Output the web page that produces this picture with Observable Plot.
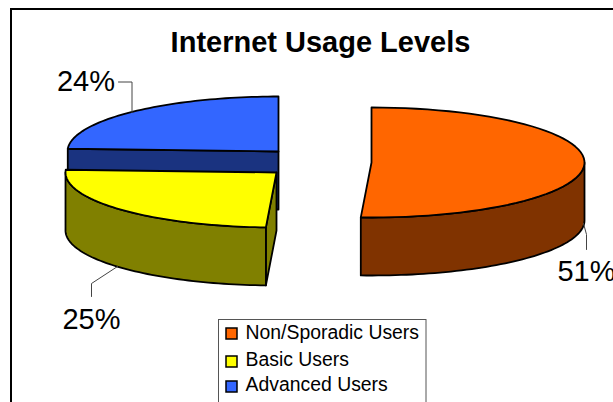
<!DOCTYPE html>
<html><head><meta charset="utf-8">
<script src="https://cdn.jsdelivr.net/npm/d3@7"></script>
<script src="https://cdn.jsdelivr.net/npm/@observablehq/plot@0.6"></script>
<style>html,body{margin:0;padding:0;background:#fff;overflow:hidden}svg{display:block}</style>
</head><body><div id="chart"></div>
<script>
const titleText = "Internet Usage Levels";
const categories = ["Non/Sporadic Users", "Basic Users", "Advanced Users"];
const shares = [50.8, 25.0, 24.2];
const topColors = ["#FF6600", "#FFFF00", "#3366FF"];
const sideColors = ["#803300", "#808000", "#1A3380"];

const W = 613, H = 402;
const FONT = "Liberation Sans, Arial, sans-serif";
// exploded slice centres and 3D pie proportions
const centres = [[371, 162], [276, 172], [278, 151]];
const radii = [213, 211, 211];
const ry = 55, depth = 58;
const turn = 2 * Math.PI / 100;
let acc = 0;
const slices = shares.map((s, i) => {
  const a0 = acc * turn; acc += s; const a1 = acc * turn;
  return {i, a0, a1, cx: centres[i][0], cy: centres[i][1], rx: radii[i]};
});
const pt = (s, a, dz = 0) => [s.cx + s.rx * Math.sin(a), s.cy - ry * Math.cos(a) + dz];
const arc = (s, a0, a1, dz = 0) => d3.range(0, 61).map(k => pt(s, a0 + (a1 - a0) * k / 60, dz));

const polys = [];
const add = (id, color, pts) => pts.forEach(p => polys.push({id, color, x: p[0], y: p[1]}));
const [orange, yellow, blue] = slices;
// blue: cut face, then top
add("b-cut", sideColors[2], [pt(blue, blue.a0), [blue.cx, blue.cy], [blue.cx, blue.cy + depth], pt(blue, blue.a0, depth)]);
add("b-top", topColors[2], [[blue.cx, blue.cy], ...arc(blue, blue.a0, blue.a1)]);
// yellow: cut face, outer side, top
add("y-cut", sideColors[1], [[yellow.cx, yellow.cy], pt(yellow, yellow.a0), pt(yellow, yellow.a0, depth), [yellow.cx, yellow.cy + depth]]);
const yEnd = 1.5 * Math.PI;
add("y-side", sideColors[1], [...arc(yellow, yellow.a0, yEnd), ...arc(yellow, yellow.a0, yEnd, depth).reverse()]);
add("y-top", topColors[1], [[yellow.cx, yellow.cy], ...arc(yellow, yellow.a0, yellow.a1)]);
// orange: outer side, top
add("o-side", sideColors[0], [...arc(orange, Math.PI / 2, orange.a1), ...arc(orange, Math.PI / 2, orange.a1, depth).reverse()]);
add("o-top", topColors[0], [[orange.cx, orange.cy], ...arc(orange, orange.a0, orange.a1)]);

// percentage labels and leader lines
const labels = [
  {t: Math.round(shares[0]) + "%", x: 586, y: 282},
  {t: Math.round(shares[1]) + "%", x: 91, y: 330},
  {t: Math.round(shares[2]) + "%", x: 85.5, y: 92}
];
const leaders = [
  {id: 0, x: 583, y: 223}, {id: 0, x: 586, y: 234}, {id: 0, x: 586, y: 249},
  {id: 1, x: 117, y: 266}, {id: 1, x: 91, y: 283}, {id: 1, x: 91, y: 296},
  {id: 2, x: 118, y: 81.5}, {id: 2, x: 131.5, y: 81.5}, {id: 2, x: 131.5, y: 112}
];
// legend
const legendRows = categories.map((c, i) => ({c, color: topColors[i], sy: [328, 356, 381][i], ty: [339, 366, 391][i]}));

const plot = Plot.plot({
  width: W, height: H, margin: 0,
  x: {domain: [0, W], range: [0, W], axis: null},
  y: {domain: [0, H], range: [0, H], axis: null},
  color: {type: "identity"},
  style: {background: "#fff", overflow: "hidden"},
  marks: [
    Plot.rect([{}], {x1: 11, x2: W + 10, y1: 9, y2: H + 10, stroke: "#000", strokeWidth: 2, fill: "#fff"}),
    Plot.text([titleText], {x: 320, y: 53, text: d => d, fontFamily: FONT, fontWeight: "bold", fontSize: 29, fill: "#000", textAnchor: "middle", lineAnchor: "bottom", dy: -2}),
    Plot.line(polys, {x: "x", y: "y", z: "id", fill: "color", stroke: "#000", strokeWidth: 1.8, curve: "linear-closed", strokeLinejoin: "round"}),
    Plot.line(leaders, {x: "x", y: "y", z: "id", stroke: "#444", strokeWidth: 1}),
    Plot.text(labels, {x: "x", y: "y", text: "t", fontFamily: FONT, fontSize: 29, fill: "#000", lineAnchor: "bottom", dy: -2}),
    Plot.rect([{}], {x1: 218.5, x2: 426, y1: 319.5, y2: H + 10, stroke: "#555", strokeWidth: 1, fill: "#fff"}),
    Plot.rect(legendRows, {x1: () => 226, x2: () => 237, y1: "sy", y2: d => d.sy + 11, fill: "color", stroke: "#000", strokeWidth: 1.5}),
    Plot.text(legendRows, {x: () => 245, y: "ty", text: "c", fontFamily: FONT, fontSize: 19.4, fill: "#000", textAnchor: "start", lineAnchor: "bottom", dy: -1})
  ]
});
document.getElementById("chart").append(plot);
</script></body></html>
